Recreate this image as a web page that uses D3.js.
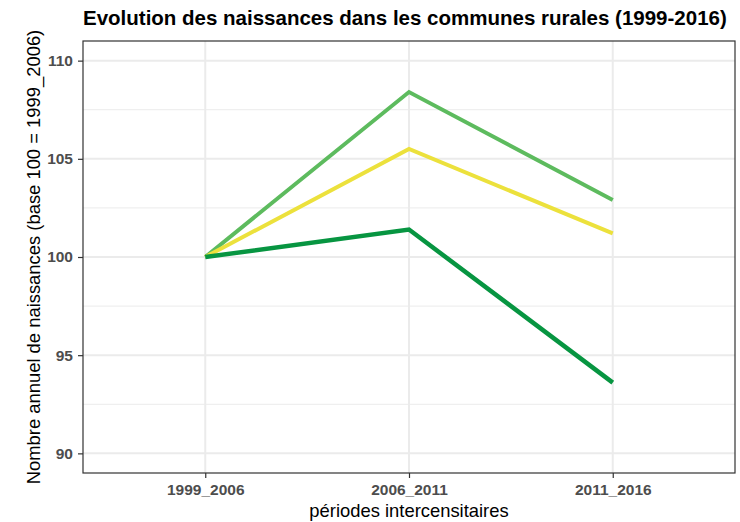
<!DOCTYPE html>
<html>
<head>
<meta charset="utf-8">
<script src="https://cdn.jsdelivr.net/npm/d3@7"></script>
<style>
  body { margin: 0; background: #fff; }
  svg text { font-family: "Liberation Sans", Arial, Helvetica, sans-serif; }
</style>
</head>
<body>
<div id="chart"></div>
<script>
// periods on the x axis
var periods = ["1999_2006", "2006_2011", "2011_2016"];
var yTicks = [90, 95, 100, 105, 110];

// the three series (base 100 = 1999_2006)
var serieLightGreen = [100, 108.4, 102.9];
var serieYellow = [100, 105.5, 101.2];
var serieDarkGreen = [100, 101.4, 93.6];

var series = [
  {name: "light", values: serieLightGreen, color: "#5dbb5e", width: 4},
  {name: "yellow", values: serieYellow, color: "#ece13c", width: 4},
  {name: "dark", values: serieDarkGreen, color: "#079541", width: 4.5}
];

var W = 740, H = 522;
var margin = {top: 41, right: 5, bottom: 49, left: 83};
var width = W - margin.left - margin.right;
var height = H - margin.top - margin.bottom;

var svg = d3.select("#chart").append("svg")
    .attr("width", W)
    .attr("height", H);

var g = svg.append("g")
    .attr("transform", "translate(" + margin.left + "," + margin.top + ")");

// discrete scale with ggplot-like expansion (0.6 unit on each side)
var x = d3.scalePoint()
    .domain(periods)
    .range([0, width])
    .padding(0.6);

var y = d3.scaleLinear()
    .domain([89, 111])
    .range([height, 0]);

// minor gridlines
var minor = [92.5, 97.5, 102.5, 107.5];
g.selectAll(".minor")
  .data(minor)
  .enter().append("line")
  .attr("x1", 0).attr("x2", width)
  .attr("y1", function(d) { return y(d); })
  .attr("y2", function(d) { return y(d); })
  .attr("stroke", "#ebebeb")
  .attr("stroke-width", 1);

// major gridlines
g.selectAll(".hmajor")
  .data(yTicks)
  .enter().append("line")
  .attr("x1", 0).attr("x2", width)
  .attr("y1", function(d) { return y(d); })
  .attr("y2", function(d) { return y(d); })
  .attr("stroke", "#ebebeb")
  .attr("stroke-width", 2);

g.selectAll(".vmajor")
  .data(periods)
  .enter().append("line")
  .attr("y1", 0).attr("y2", height)
  .attr("x1", function(d) { return x(d); })
  .attr("x2", function(d) { return x(d); })
  .attr("stroke", "#ebebeb")
  .attr("stroke-width", 2);

// lines
var line = d3.line()
  .x(function(d, i) { return x(periods[i]); })
  .y(function(d) { return y(d); });

g.selectAll(".serie")
  .data(series)
  .enter().append("path")
  .attr("class", "serie")
  .attr("d", function(d) { return line(d.values); })
  .attr("fill", "none")
  .attr("stroke", function(d) { return d.color; })
  .attr("stroke-width", function(d) { return d.width; })
  .attr("stroke-linejoin", "miter");

// panel border
g.append("rect")
  .attr("width", width)
  .attr("height", height)
  .attr("fill", "none")
  .attr("stroke", "#333333")
  .attr("stroke-width", 1.2);

// axes
var xAxis = d3.axisBottom(x).tickSize(5).tickPadding(6);
var yAxis = d3.axisLeft(y).tickValues(yTicks).tickSize(5).tickPadding(5);

var gx = g.append("g")
  .attr("transform", "translate(0," + height + ")")
  .call(xAxis);
var gy = g.append("g").call(yAxis);

[gx, gy].forEach(function(a) {
  a.select(".domain").remove();
  a.selectAll(".tick line").attr("stroke", "#333333").attr("stroke-width", 1.2);
  a.selectAll(".tick text")
    .attr("fill", "#4d4d4d")
    .style("font-size", "15.5px")
    .style("font-weight", "bold");
});

// title and axis titles
svg.append("text")
  .attr("x", margin.left)
  .attr("y", 25)
  .style("font-size", "20.5px")
  .style("font-weight", "bold")
  .attr("fill", "#000")
  .text("Evolution des naissances dans les communes rurales (1999-2016)");

svg.append("text")
  .attr("x", margin.left + width / 2)
  .attr("y", 517)
  .attr("text-anchor", "middle")
  .style("font-size", "18.4px")
  .attr("fill", "#000")
  .text("périodes intercensitaires");

svg.append("text")
  .attr("transform", "rotate(-90)")
  .attr("x", -(margin.top + height / 2))
  .attr("y", 40)
  .attr("text-anchor", "middle")
  .style("font-size", "18.4px")
  .attr("fill", "#000")
  .text("Nombre annuel de naissances (base 100 = 1999_2006)");
</script>
</body>
</html>
